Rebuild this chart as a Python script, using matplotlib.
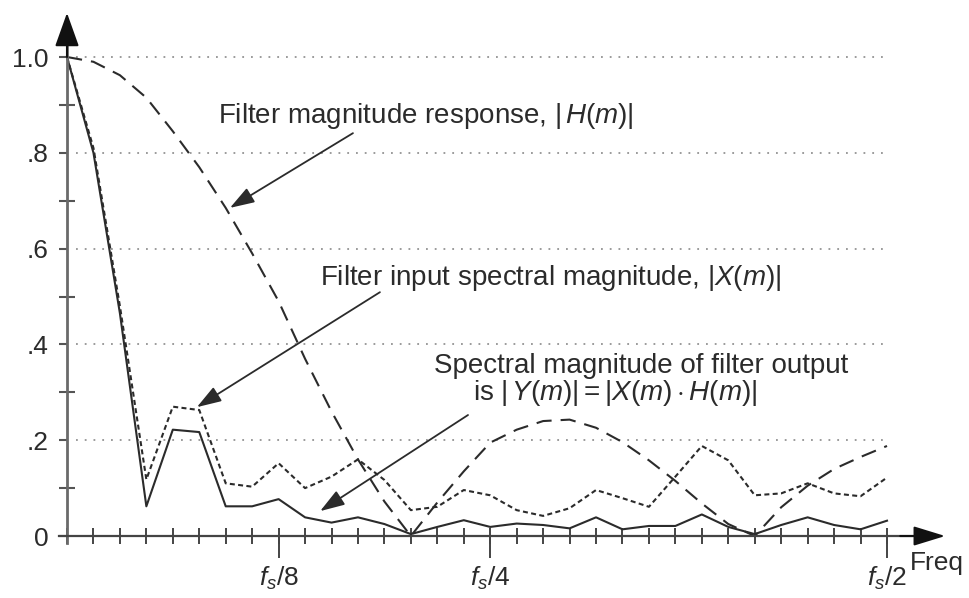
import matplotlib
matplotlib.use("Agg")
import matplotlib.pyplot as plt

# frequency bin index (0 .. fs/2)
freq_bins = list(range(32))

# filter input spectral magnitude |X(m)|  (short dashes)
x_mag = [1.0, 0.81, 0.48, 0.118, 0.27, 0.263, 0.11, 0.103, 0.152, 0.10,
         0.124, 0.16, 0.117, 0.054, 0.061, 0.096, 0.085, 0.054, 0.042, 0.058,
         0.096, 0.079, 0.061, 0.124, 0.188, 0.158, 0.085, 0.089, 0.11, 0.089,
         0.083, 0.122]

# filter magnitude response |H(m)|  (long dashes)
h_mag = [1.0, 0.99, 0.962, 0.915, 0.845, 0.77, 0.685, 0.59, 0.49, 0.37,
         0.26, 0.16, 0.072, 0.0, 0.07, 0.135, 0.195, 0.222, 0.24, 0.243,
         0.226, 0.196, 0.158, 0.115, 0.068, 0.025, 0.0, 0.06, 0.105, 0.14,
         0.165, 0.188]

# filter output |Y(m)|  (solid)
y_mag = [1.0, 0.80, 0.465, 0.062, 0.222, 0.217, 0.062, 0.062, 0.077, 0.039,
         0.028, 0.039, 0.025, 0.004, 0.019, 0.033, 0.019, 0.026, 0.023, 0.016,
         0.039, 0.014, 0.021, 0.021, 0.045, 0.019, 0.004, 0.023, 0.039, 0.023,
         0.014, 0.032]

grid_levels = [0.2, 0.4, 0.6, 0.8, 1.0]
ytick_vals = [0, 0.2, 0.4, 0.6, 0.8, 1.0]
ytick_labels = ["0", ".2", ".4", ".6", ".8", "1.0"]
ytick_minor = [0.1, 0.3, 0.5, 0.7, 0.9]
xtick_vals = [8, 16, 31]
xtick_labels = [r"$f_s$/8", r"$f_s$/4", r"$f_s$/2"]

plt.rcParams["font.family"] = ["Liberation Sans", "DejaVu Sans"]
plt.rcParams["mathtext.fontset"] = "custom"
plt.rcParams["mathtext.rm"] = "Liberation Sans"
plt.rcParams["mathtext.it"] = "Liberation Sans:italic"
plt.rcParams["mathtext.sf"] = "Liberation Sans"
plt.rcParams["lines.scale_dashes"] = False

ink = "#2b2b2b"
fig = plt.figure(figsize=(9.69, 5.98), dpi=100)
ax = fig.add_axes([0, 0, 1, 1])
ax.set_xlim(-2.533, 34.10)
ax.set_ylim(-0.1294, 1.119)

# dotted grid
ax.hlines(grid_levels, 0.35, 30.95, colors="#8a8a8a", linestyles=(0, (1.3, 5.0)), lw=1.2)

# the three curves
ax.plot(freq_bins, h_mag, color=ink, lw=1.5, linestyle=(0, (11, 6.5)))
ax.plot(freq_bins, x_mag, color=ink, lw=1.5, linestyle=(0, (3.6, 2.4)))
ax.plot(freq_bins, y_mag, color=ink, lw=1.5)

# axes
for s in ["top", "right"]:
    ax.spines[s].set_visible(False)
ax.spines["left"].set_position(("data", 0))
ax.spines["bottom"].set_position(("data", 0))
ax.spines["left"].set_bounds(-0.015, 1.04)
ax.spines["bottom"].set_bounds(-0.3, 32.3)
ax.spines["left"].set_color("#6a6a6a")
ax.spines["left"].set_linewidth(2.0)
ax.spines["bottom"].set_color("#444444")
ax.spines["bottom"].set_linewidth(1.6)

ax.annotate("", xy=(0, 1.092), xytext=(0, 1.0),
            arrowprops=dict(arrowstyle="-|>,head_length=2.1,head_width=0.75",
                            mutation_scale=10, color="#111111", lw=1.5,
                            shrinkA=0, shrinkB=0))
ax.annotate("", xy=(33.2, 0), xytext=(31.5, 0),
            arrowprops=dict(arrowstyle="-|>,head_length=1.95,head_width=0.6",
                            mutation_scale=10, color="#111111", lw=1.5,
                            shrinkA=0, shrinkB=0))

ax.set_yticks(ytick_vals)
ax.set_yticklabels(ytick_labels)
ax.set_yticks(ytick_minor, minor=True)
ax.tick_params(axis="y", which="major", direction="out", length=6, width=1.5,
               color="#555555", labelsize=19, labelcolor=ink, pad=7)
ax.tick_params(axis="y", which="minor", direction="inout", length=12, width=1.5,
               color="#555555")

ax.xaxis.remove_overlapping_locs = False
ax.set_xticks(xtick_vals)
ax.set_xticklabels(xtick_labels)
ax.set_xticks(freq_bins, minor=True)
ax.tick_params(axis="x", which="major", direction="out", length=16, width=1.4,
               color="#444444", labelsize=19, labelcolor=ink, pad=5)
ax.tick_params(axis="x", which="minor", direction="inout", length=11, width=1.4,
               color="#444444")

ax.text(31.87, -0.071, "Freq", fontsize=19, color=ink, ha="left", va="baseline")

# annotations
arrow_kw = dict(arrowstyle="-|>,head_length=0.75,head_width=0.25",
                mutation_scale=20, color=ink, lw=1.3, shrinkA=0, shrinkB=0)
ax.text(5.71, 0.862, r"Filter magnitude response, $|\,H(m)|$", fontsize=20,
        color=ink, ha="left", va="baseline")
ax.annotate("", xy=(6.16, 0.685), xytext=(10.81, 0.841), arrowprops=arrow_kw)

ax.text(9.57, 0.524, r"Filter input spectral magnitude, $|X(m)|$", fontsize=20,
        color=ink, ha="left", va="baseline")
ax.annotate("", xy=(4.91, 0.269), xytext=(11.83, 0.509), arrowprops=arrow_kw)

ax.text(13.88, 0.3396, "Spectral magnitude of filter output", fontsize=20,
        color=ink, ha="left", va="baseline")
ax.text(15.34, 0.284, r"is $|\,Y(m)| = |X(m)\cdot H(m)|$", fontsize=20,
        color=ink, ha="left", va="baseline")
ax.annotate("", xy=(9.57, 0.052), xytext=(15.16, 0.2526), arrowprops=arrow_kw)

fig.savefig("out.png", dpi=100)
